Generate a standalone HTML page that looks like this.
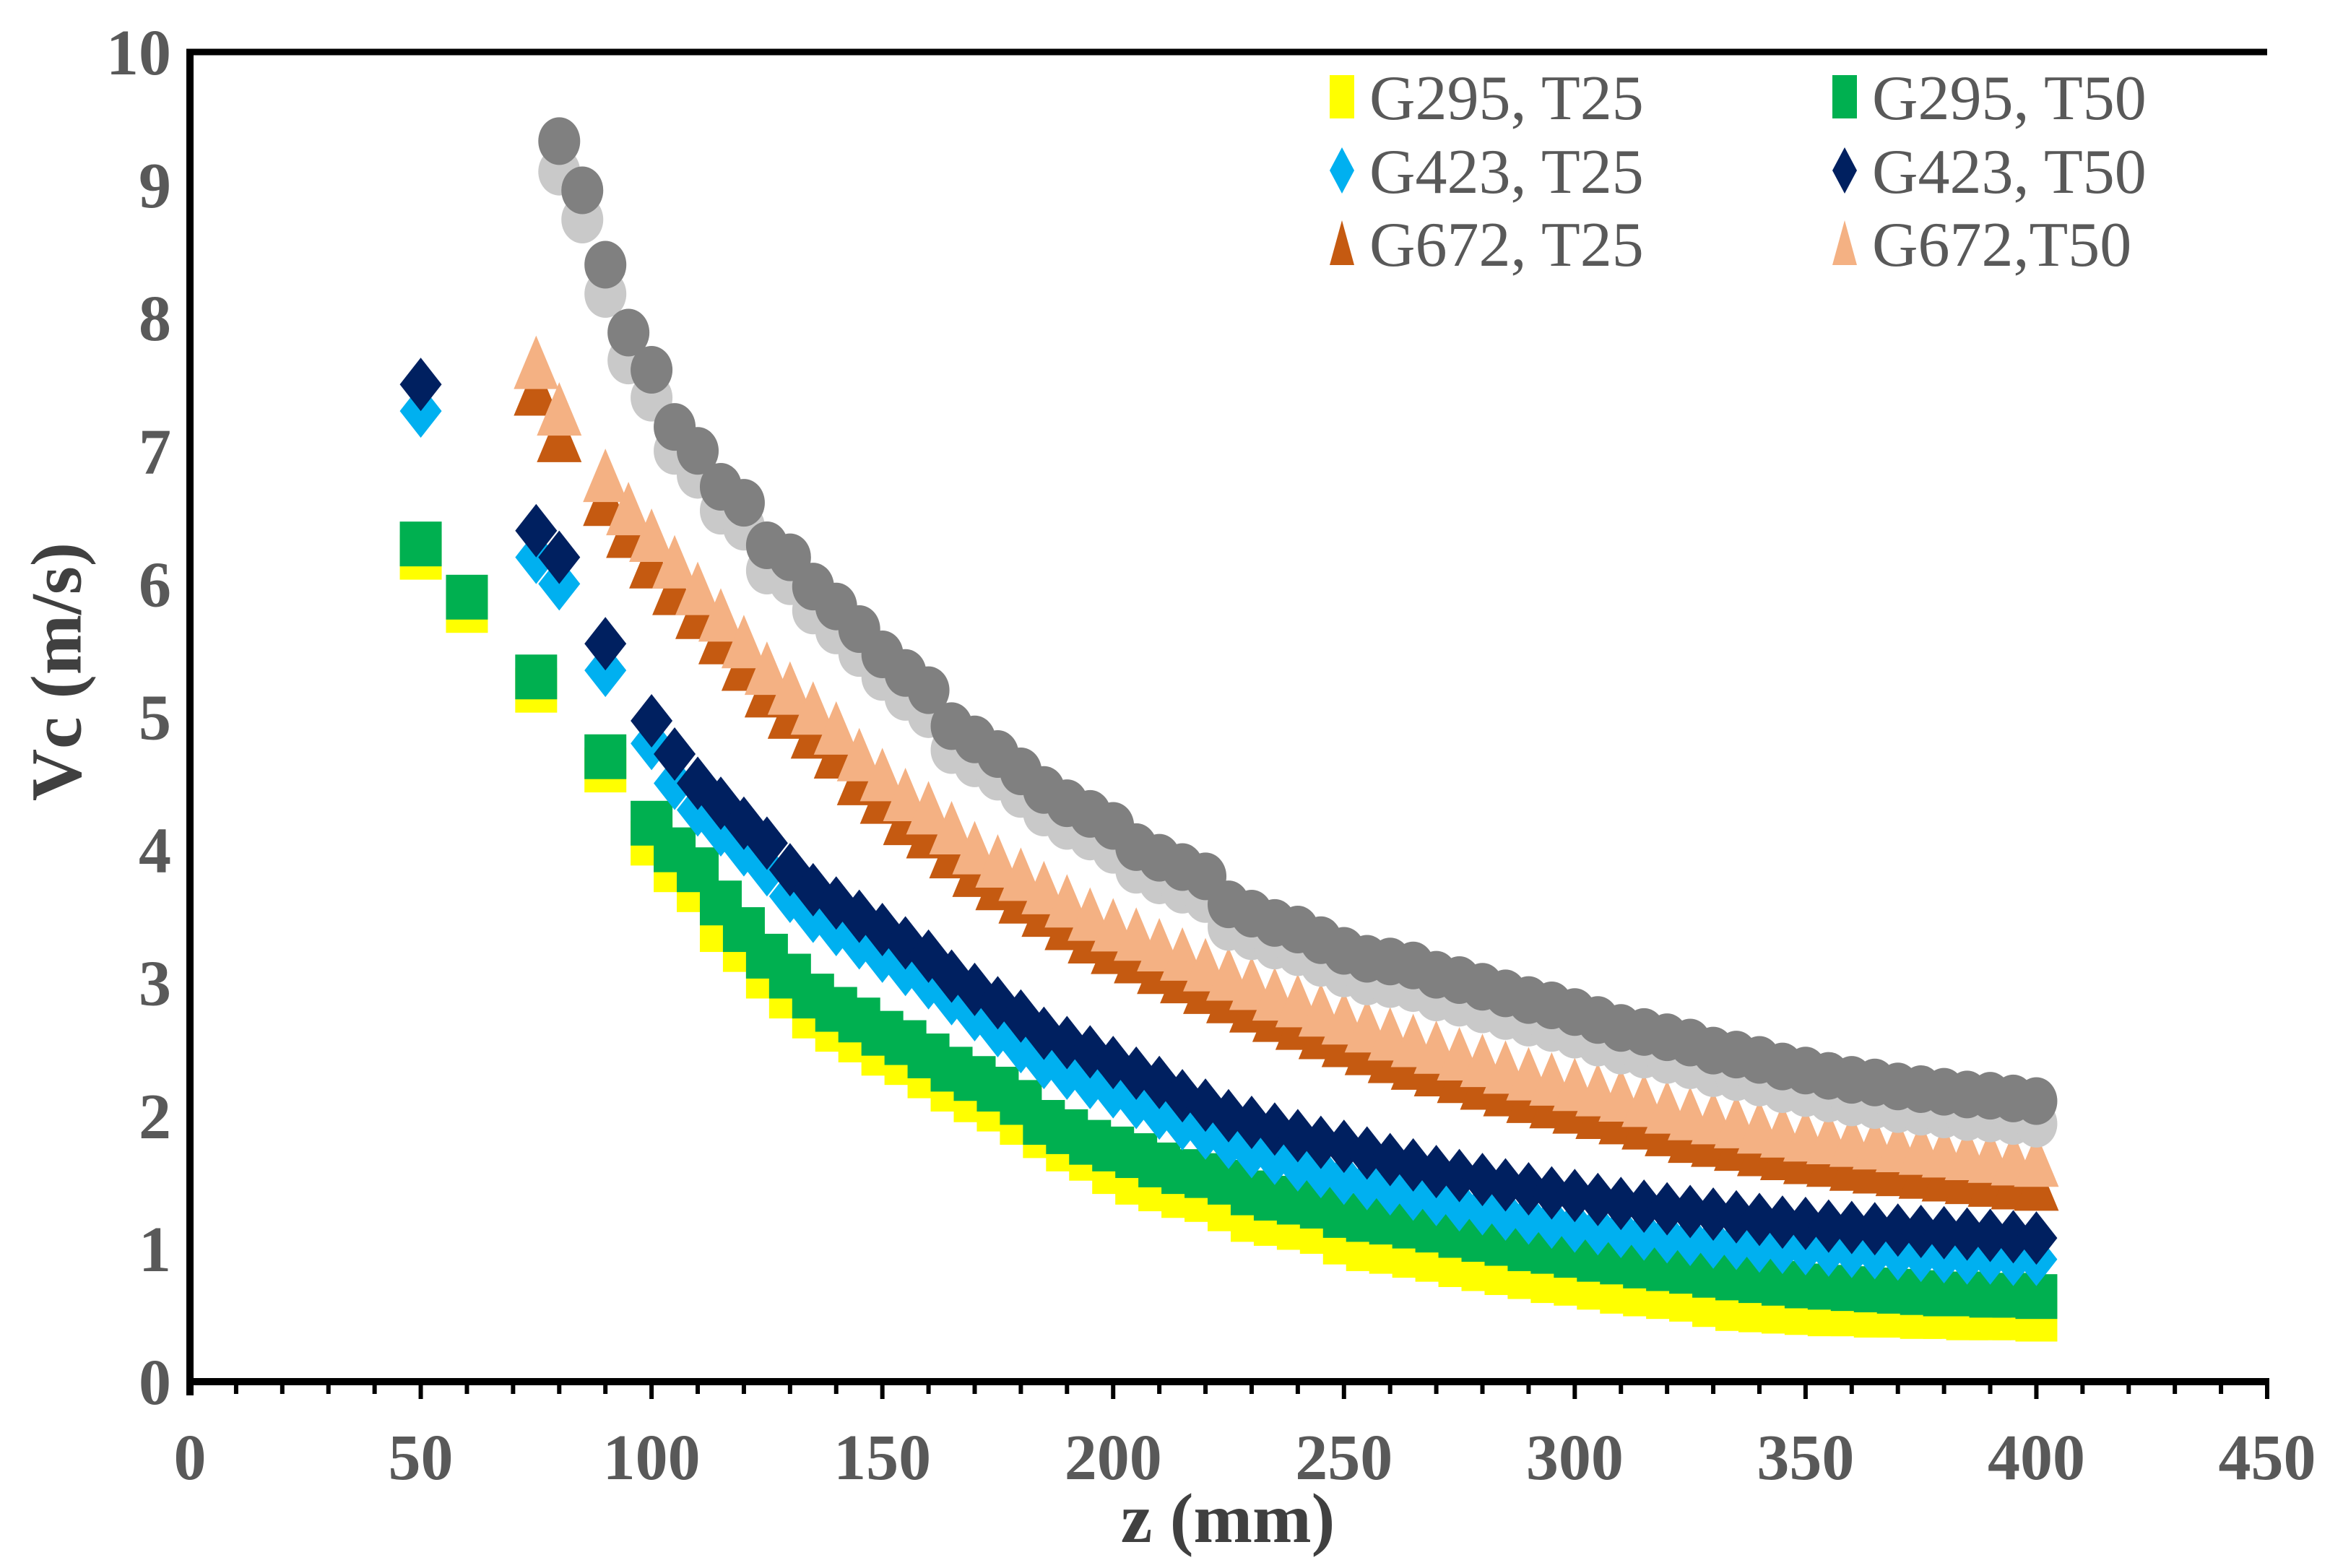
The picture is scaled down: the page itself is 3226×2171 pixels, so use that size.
<!DOCTYPE html>
<html><head><meta charset="utf-8"><style>
html,body{margin:0;padding:0;background:#fff;}
svg{display:block;}
</style></head><body>
<svg id="chart" width="3226" height="2171" viewBox="0 0 3226 2171" xmlns="http://www.w3.org/2000/svg">
<rect x="0" y="0" width="3226" height="2171" fill="#fff"/>
<g id="marks"></g>
<g id="axes"></g>
<g id="legend"></g>
<text x="1700" y="2135" font-family="Liberation Serif, serif" font-weight="bold" font-size="98" fill="#404040" text-anchor="middle">z (mm)</text>
<text transform="translate(78,930) rotate(-90)" x="0" y="0" font-family="Liberation Serif, serif" font-weight="bold" font-size="100" fill="#404040" text-anchor="middle" dominant-baseline="central">Vc (m/s)</text>
</svg>
<script>
var zTail = [105,110,115,120,125,130,135,140,145,150,155,160,165,170,175,180,185,190,195,200,205,210,215,220,225,230,235,240,245,250,255,260,265,270,275,280,285,290,295,300,305,310,315,320,325,330,335,340,345,350,355,360,365,370,375,380,385,390,395,400];
var zCircle = [80,85,90,95,100].concat(zTail);
var zTriangle = [75,80,90,95,100].concat(zTail);
var zDiamond = [50,75,80,90,100].concat(zTail);
var zSquare = [50,60,75,90,100].concat(zTail);

var g295T25 = [6.2,5.8,5.2,4.6,4.05,3.85,3.7,3.4,3.25,3.05,2.9,2.75,2.65,2.57,2.47,2.4,2.3,2.2,2.12,2.05,1.95,1.85,1.75,1.68,1.58,1.5,1.45,1.4,1.37,1.3,1.22,1.19,1.16,1.13,1.05,1.0,0.98,0.95,0.92,0.88,0.85,0.82,0.79,0.76,0.74,0.71,0.68,0.66,0.64,0.62,0.58,0.55,0.54,0.53,0.52,0.51,0.51,0.5,0.5,0.49,0.49,0.48,0.48,0.48,0.47];
var g295T50 = [6.3,5.9,5.3,4.7,4.2,4.0,3.85,3.6,3.4,3.2,3.05,2.9,2.8,2.72,2.62,2.55,2.45,2.35,2.28,2.2,2.1,1.95,1.88,1.8,1.75,1.7,1.63,1.58,1.55,1.5,1.42,1.38,1.35,1.32,1.25,1.22,1.2,1.17,1.14,1.1,1.07,1.04,1.0,0.98,0.95,0.92,0.9,0.87,0.85,0.83,0.8,0.78,0.76,0.74,0.72,0.71,0.7,0.69,0.68,0.67,0.66,0.66,0.65,0.65,0.64];
var g423T25 = [7.3,6.2,6.0,5.35,4.8,4.5,4.3,4.15,4.0,3.85,3.65,3.5,3.4,3.3,3.2,3.1,3.0,2.88,2.76,2.64,2.52,2.4,2.32,2.25,2.18,2.1,2.02,1.94,1.87,1.8,1.73,1.68,1.63,1.58,1.53,1.49,1.45,1.41,1.37,1.33,1.3,1.26,1.23,1.2,1.17,1.15,1.13,1.11,1.09,1.07,1.05,1.04,1.02,1.01,1.0,0.99,0.98,0.97,0.96,0.95,0.94,0.93,0.93,0.92,0.92];
var g423T50 = [7.5,6.4,6.2,5.55,4.97,4.72,4.5,4.35,4.2,4.05,3.85,3.7,3.6,3.5,3.4,3.3,3.2,3.05,2.95,2.85,2.75,2.62,2.55,2.48,2.4,2.32,2.25,2.15,2.08,2.0,1.95,1.9,1.85,1.8,1.77,1.72,1.67,1.63,1.58,1.55,1.52,1.48,1.45,1.42,1.4,1.37,1.34,1.32,1.3,1.28,1.26,1.24,1.22,1.2,1.19,1.17,1.16,1.15,1.14,1.13,1.12,1.11,1.1,1.09,1.08];
var g672T25 = [7.45,7.1,6.62,6.38,6.15,5.95,5.77,5.58,5.38,5.18,5.02,4.87,4.72,4.52,4.38,4.22,4.12,3.97,3.83,3.73,3.63,3.53,3.43,3.33,3.25,3.18,3.1,3.03,2.95,2.88,2.81,2.74,2.68,2.61,2.55,2.49,2.43,2.38,2.33,2.28,2.23,2.18,2.13,2.09,2.05,2.01,1.97,1.93,1.88,1.83,1.8,1.77,1.73,1.7,1.67,1.65,1.62,1.6,1.58,1.56,1.54,1.52,1.5,1.48,1.47];
var g672T50 = [7.65,7.3,6.8,6.55,6.35,6.15,5.95,5.75,5.55,5.35,5.2,5.05,4.9,4.7,4.55,4.4,4.3,4.15,4.0,3.9,3.8,3.7,3.6,3.5,3.42,3.35,3.27,3.2,3.12,3.05,2.98,2.9,2.85,2.78,2.72,2.66,2.6,2.55,2.5,2.45,2.4,2.35,2.3,2.26,2.22,2.18,2.14,2.1,2.05,2.0,1.97,1.94,1.9,1.87,1.84,1.82,1.8,1.78,1.76,1.74,1.72,1.7,1.68,1.66,1.65];
var grayLight = [9.1,8.74,8.18,7.68,7.4,7.0,6.82,6.55,6.43,6.1,6.02,5.8,5.65,5.48,5.3,5.15,5.02,4.75,4.65,4.55,4.42,4.28,4.18,4.1,4.0,3.85,3.77,3.7,3.63,3.42,3.35,3.28,3.23,3.15,3.07,3.01,2.99,2.96,2.89,2.85,2.8,2.75,2.7,2.66,2.61,2.55,2.49,2.46,2.42,2.38,2.32,2.29,2.25,2.2,2.17,2.13,2.1,2.08,2.05,2.03,2.01,1.99,1.98,1.96,1.94];
var grayDark = [9.33,8.96,8.40,7.89,7.61,7.18,7.0,6.73,6.61,6.29,6.2,5.98,5.83,5.66,5.47,5.33,5.2,4.93,4.83,4.72,4.59,4.45,4.35,4.27,4.18,4.02,3.94,3.87,3.80,3.59,3.52,3.45,3.40,3.32,3.24,3.18,3.16,3.13,3.06,3.02,2.97,2.92,2.87,2.83,2.78,2.72,2.66,2.63,2.59,2.55,2.49,2.46,2.42,2.37,2.34,2.30,2.27,2.25,2.22,2.20,2.18,2.16,2.15,2.13,2.11];

var xTicks = [0,50,100,150,200,250,300,350,400,450];
var yTicks = [0,1,2,3,4,5,6,7,8,9,10];
var legendLabels = ["G295, T25","G295, T50","G423, T25","G423, T50","G672, T25","G672,T50"];

var NS = "http://www.w3.org/2000/svg";
var X0 = 263, X1 = 3139, Y0 = 1913, Y1 = 72;
function xs(z){ return X0 + (z/450)*(X1-X0); }
function ys(v){ return Y0 - (v/10)*(Y0-Y1); }
function mk(tag, attrs, parent){ var e = document.createElementNS(NS, tag); for (var k in attrs) e.setAttribute(k, attrs[k]); parent.appendChild(e); return e; }

function shape(kind, cx, cy, color, s, parent){
  var e;
  if (kind === 'square') e = mk('rect', {x:cx-29*s, y:cy-31*s, width:58*s, height:62*s, fill:color}, parent);
  else if (kind === 'diamond') e = mk('polygon', {points:(cx)+','+(cy-37*s)+' '+(cx+29*s)+','+cy+' '+cx+','+(cy+37*s)+' '+(cx-29*s)+','+cy, fill:color}, parent);
  else if (kind === 'triangle') e = mk('polygon', {points:cx+','+(cy-40*s)+' '+(cx+31*s)+','+(cy+34*s)+' '+(cx-31*s)+','+(cy+34*s), fill:color}, parent);
  else e = mk('ellipse', {cx:cx, cy:cy, rx:29*s, ry:33*s, fill:color}, parent);
  return e;
}

var marksGroup = document.getElementById('marks');
var seriesList = [
  {name:'g295-t25', z:zSquare, v:g295T25, kind:'square', color:'#FFFF00'},
  {name:'g295-t50', z:zSquare, v:g295T50, kind:'square', color:'#00B050'},
  {name:'g423-t25', z:zDiamond, v:g423T25, kind:'diamond', color:'#00B0F0'},
  {name:'g423-t50', z:zDiamond, v:g423T50, kind:'diamond', color:'#002060'},
  {name:'g672-t25', z:zTriangle, v:g672T25, kind:'triangle', color:'#C55A11'},
  {name:'g672-t50', z:zTriangle, v:g672T50, kind:'triangle', color:'#F4B183'},
  {name:'gray-light', z:zCircle, v:grayLight, kind:'circle', color:'#C9C9C9'},
  {name:'gray-dark', z:zCircle, v:grayDark, kind:'circle', color:'#808080'}
];
seriesList.forEach(function(s){
  var g = mk('g', {}, marksGroup);
  
  
  for (var i = 0; i < s.v.length; i++){
    var p = shape(s.kind, xs(s.z[i]), ys(s.v[i]), s.color, 1, g);
    
    
  }
});

var axesGroup = document.getElementById('axes');
var topBorder = mk('line', {x1:258, y1:Y1, x2:X1, y2:Y1, stroke:'#000', 'stroke-width':9}, axesGroup);


var yAxisLine = mk('line', {x1:X0, y1:Y1-4, x2:X0, y2:Y0+19, stroke:'#000', 'stroke-width':10}, axesGroup);


var xAxisLine = mk('line', {x1:X0-5, y1:Y0, x2:X1+3, y2:Y0, stroke:'#000', 'stroke-width':10}, axesGroup);


for (var t = 10; t <= 450; t += 10){
  var major = (t % 50 === 0);
  var tk = mk('line', {x1:xs(t), y1:Y0, x2:xs(t), y2:Y0 + (major ? 24 : 17), stroke:'#000', 'stroke-width':6}, axesGroup);
  
  
}
xTicks.forEach(function(v){
  var tx = mk('text', {x:xs(v), y:2048, 'font-family':'Liberation Serif, serif', 'font-weight':'bold', 'font-size':90, fill:'#595959', 'text-anchor':'middle'}, axesGroup);
  tx.textContent = String(v);
  
  
});
yTicks.forEach(function(v){
  var tx = mk('text', {x:237, y:ys(v)+31, 'font-family':'Liberation Serif, serif', 'font-weight':'bold', 'font-size':90, fill:'#595959', 'text-anchor':'end'}, axesGroup);
  tx.textContent = String(v);
  
  
});

var legendGroup = document.getElementById('legend');
var lx = [1858, 2554], ly = [134, 236, 337];
var legKinds = ['square','square','diamond','diamond','triangle','triangle'];
var legColors = ['#FFFF00','#00B050','#00B0F0','#002060','#C55A11','#F4B183'];
legendLabels.forEach(function(lab, i){
  var col = i % 2, row = Math.floor(i / 2);
  var g = mk('g', {}, legendGroup);
  
  
  var m;
  var cx = lx[col], cy = ly[row];
  if (legKinds[i] === 'square') m = mk('rect', {x:cx-17, y:cy-30, width:34, height:60, fill:legColors[i]}, g);
  else if (legKinds[i] === 'diamond') m = mk('polygon', {points:cx+','+(cy-32)+' '+(cx+17)+','+cy+' '+cx+','+(cy+32)+' '+(cx-17)+','+cy, fill:legColors[i]}, g);
  else m = mk('polygon', {points:cx+','+(cy-32)+' '+(cx+17)+','+(cy+30)+' '+(cx-17)+','+(cy+30), fill:legColors[i]}, g);
  
  
  var tx = mk('text', {x:cx+38, y:cy+31, 'font-family':'Liberation Serif, serif', 'font-size':88, fill:'#595959'}, g);
  tx.textContent = lab;
  
  
});
</script>
</body></html>
